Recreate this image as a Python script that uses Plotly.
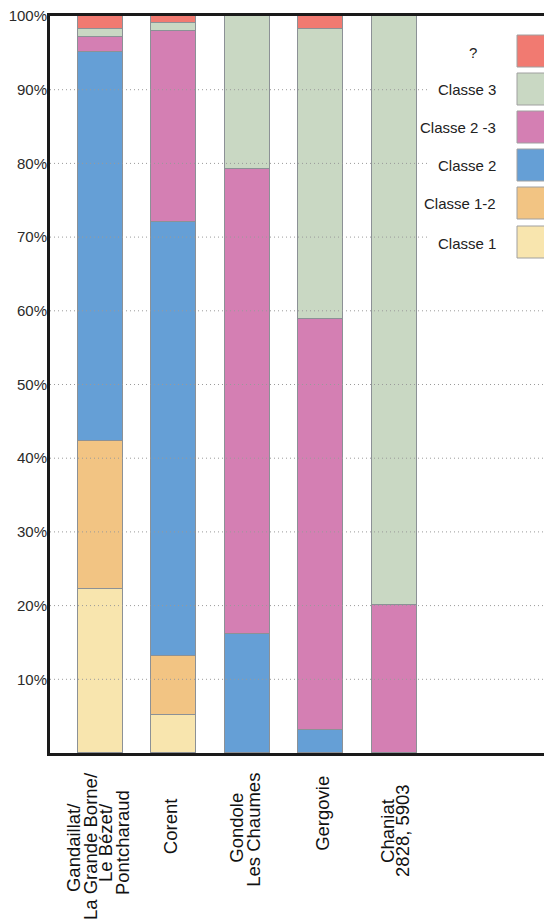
import plotly.graph_objects as go

categories = ["Gandaillat/ La Grande Borne/ Le Bézet/ Pontcharaud", "Corent",
              "Gondole Les Chaumes", "Gergovie", "Chaniat 2828, 5903"]
label_lines = [["Gandaillat/", "La Grande Borne/", "Le Bézet/", "Pontcharaud"],
               ["Corent"],
               ["Gondole", "Les Chaumes"],
               ["Gergovie"],
               ["Chaniat", "2828, 5903"]]

series_names = ["Classe 1", "Classe 1-2", "Classe 2", "Classe 2 -3", "Classe 3", "?"]
classe1 = [22.2, 5.2, None, None, None]
classe12 = [20.1, 7.9, None, None, None]
classe2 = [52.8, 59.0, 16.2, 3.1, None]
classe23 = [2.1, 25.8, 63.0, 55.8, 20.1]
classe3 = [1.0, 1.2, 20.8, 39.3, 79.9]
inconnu = [1.9, 0.9, None, 1.8, None]
series_values = [classe1, classe12, classe2, classe23, classe3, inconnu]
colors = ["#f8e5ae", "#f2c483", "#659fd6", "#d47fb3", "#c9d8c3", "#f17a71"]

tick_vals = [10, 20, 30, 40, 50, 60, 70, 80, 90, 100]
tick_text = ["10%", "20%", "30%", "40%", "50%", "60%", "70%", "80%", "90%", "100%"]

# page has an 8px body margin: compensate so the picture matches pixel positions
OFF = 8
W, H = 552 - OFF, 922 - OFF
ML, MR, MT, MB = 50 - OFF, 0, 16 - OFF, 169
PW, PH = W - ML - MR, H - MT - MB
FONT = "Liberation Sans, Arial, sans-serif"


def px(xp):  # screen pixel -> paper x
    return (xp - OFF - ML) / PW


def py(yp):  # screen pixel -> paper y
    return (H - MB - (yp - OFF)) / PH


xs = list(range(len(categories)))
fig = go.Figure()
for name, vals, col in zip(series_names, series_values, colors):
    fig.add_trace(go.Bar(x=xs, y=vals, name=name, width=0.61,
                         marker=dict(color=col, line=dict(color="#8c9196", width=1)),
                         showlegend=False))

shapes = []
for v in tick_vals[:-1]:
    shapes.append(dict(type="line", xref="paper", yref="y", x0=0, x1=1, y0=v, y1=v,
                       line=dict(color="#9a9a9a", width=1, dash="1px,3px"), layer="above"))
shapes.append(dict(type="rect", xref="paper", yref="paper", x0=px(427), x1=1.0,
                   y0=py(262), y1=py(20), fillcolor="white", line=dict(width=0), layer="above"))
legend_order = ["?", "Classe 3", "Classe 2 -3", "Classe 2", "Classe 1-2", "Classe 1"]
legend_cols = {n: c for n, c in zip(series_names, colors)}
box_centers = [51, 89, 127, 165, 203, 242]
annotations = []
for n, yc in zip(legend_order, box_centers):
    shapes.append(dict(type="rect", xref="paper", yref="paper", x0=px(517), x1=px(549),
                       y0=py(yc + 16), y1=py(yc - 16), fillcolor=legend_cols[n],
                       line=dict(color="#a0a0a0", width=1), layer="above"))
    if n == "?":
        annotations.append(dict(text=n, xref="paper", yref="paper", x=px(473), y=py(yc + 1),
                                xanchor="center", yanchor="middle", showarrow=False,
                                font=dict(family=FONT, size=15, color="#222")))
    else:
        annotations.append(dict(text=n, xref="paper", yref="paper", x=px(498), y=py(yc + 1),
                                xanchor="right", yanchor="middle", showarrow=False,
                                font=dict(family=FONT, size=15, color="#222")))

label_pos = [
    [(-27, 848), (-10, 846), (5, 843), (22, 843)],
    [(-3.5, 826)],
    [(-11.5, 828), (5.5, 830)],
    [(1, 813)],
    [(-7.5, 831), (7.5, 830)],
]
for i, (lines, poss) in enumerate(zip(label_lines, label_pos)):
    for t, (dx, yc) in zip(lines, poss):
        annotations.append(dict(text=t, xref="x", yref="paper", x=i, y=0,
                                xshift=dx, yshift=(H - MB) - (yc - OFF), textangle=-90,
                                xanchor="center", yanchor="middle", showarrow=False,
                                font=dict(family=FONT, size=18.5, color="#111")))

fig.update_layout(
    width=W, height=H, barmode="stack",
    margin=dict(l=ML, r=MR, t=MT, b=MB, autoexpand=False),
    paper_bgcolor="white", plot_bgcolor="white",
    font=dict(family=FONT),
    bargap=0,
    xaxis=dict(range=[-0.68, -0.68 + PW / 73.6], showticklabels=False, showgrid=False,
               zeroline=False, showline=True, linecolor="#1a1a1a", linewidth=3, mirror=True,
               ticks="", automargin=False),
    yaxis=dict(range=[0, 100], tickvals=tick_vals, ticktext=tick_text, showgrid=False,
               zeroline=False, showline=True, linecolor="#1a1a1a", linewidth=3,
               ticks="", tickfont=dict(family=FONT, size=15, color="#2a2a2a"),
               ticklabelstandoff=-3, ticklabeloverflow="allow", automargin=False),
    shapes=shapes, annotations=annotations,
)
fig.write_html("out.html")
